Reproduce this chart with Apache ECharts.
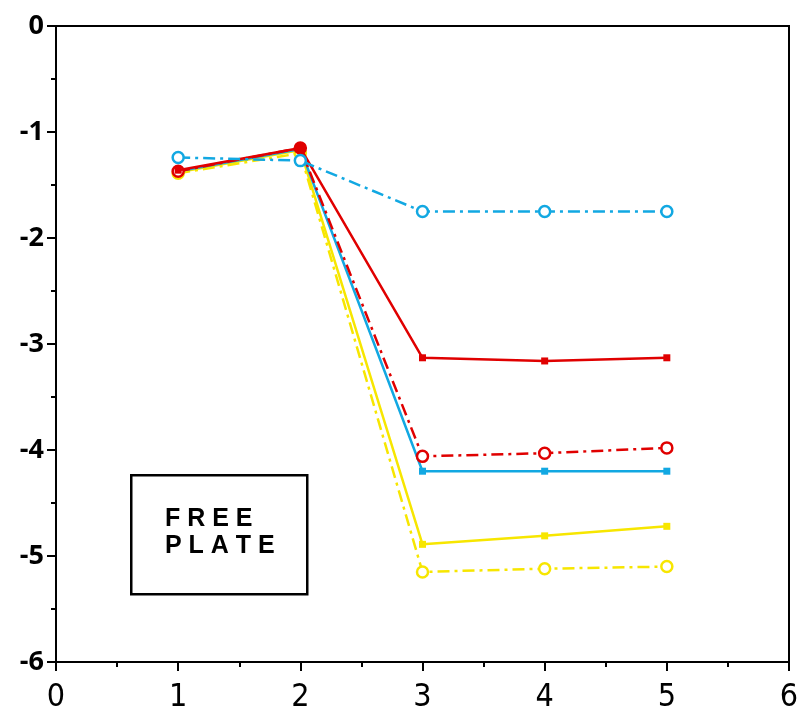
<!DOCTYPE html>
<html><head><meta charset="utf-8">
<script src="https://cdn.jsdelivr.net/npm/echarts@6/dist/echarts.min.js"></script>
<style>html,body{margin:0;padding:0;background:#fff}#c{width:810px;height:722px}</style>
</head><body><div id="c"></div>
<script>
var xValues = [1, 2, 3, 4, 5];
var blueDashCircle = [-1.24, -1.27, -1.75, -1.75, -1.75];
var redSolidSquare = [-1.36, -1.15, -3.13, -3.16, -3.13];
var redDashCircle = [-1.37, -1.15, -4.06, -4.03, -3.98];
var blueSolidSquare = [-1.37, -1.16, -4.20, -4.20, -4.20];
var yellowSolidSquare = [-1.38, -1.17, -4.89, -4.81, -4.72];
var yellowDashCircle = [-1.39, -1.2, -5.15, -5.12, -5.10];
var annotationText = ['F R E E', 'P L A T E'];

var RED = '#e00000', BLUE = '#12a8e2', YELLOW = '#f7e600';
var dashDot = [12, 5, 3, 5];
function pts(arr) { return arr.map(function (v, i) { return [xValues[i], v]; }); }
function mk(name, data, color, dashed, symbol, size, z) {
  return {
    name: name, type: 'line', data: pts(data), z: z,
    symbol: symbol, symbolSize: size,
    itemStyle: { color: dashed ? '#fff' : color, borderColor: color, borderWidth: dashed ? 2.5 : 0 },
    lineStyle: { color: color, width: 2.5, type: dashed ? dashDot : 'solid' },
    animation: false
  };
}
var redSolid = mk('redSolid', redSolidSquare, RED, false, 'rect', 7, 6);
redSolid.data[1] = { value: redSolid.data[1], symbol: 'circle', symbolSize: 12 };
var chart = echarts.init(document.getElementById('c'));
chart.setOption({
  backgroundColor: '#fff',
  grid: { left: 56, top: 26, width: 733, height: 636, show: true, borderColor: '#000', borderWidth: 2, backgroundColor: 'transparent' },
  xAxis: {
    type: 'value', min: 0, max: 6, interval: 1, position: 'bottom',
    axisLine: { onZero: false, lineStyle: { color: '#000', width: 2 } },
    axisTick: { inside: false, length: 9, lineStyle: { color: '#000', width: 2 } },
    minorTick: { show: true, splitNumber: 2, length: 5, lineStyle: { color: '#000', width: 2 } },
    splitLine: { show: false },
    axisLabel: { color: '#000', fontSize: 32, fontFamily: '"Liberation Sans Narrow", "DejaVu Sans Condensed", sans-serif', fontWeight: 'normal', margin: 20 }
  },
  yAxis: {
    type: 'value', min: -6, max: 0, interval: 1, position: 'left',
    axisLine: { onZero: false, lineStyle: { color: '#000', width: 2 } },
    axisTick: { inside: false, length: 9, lineStyle: { color: '#000', width: 2 } },
    minorTick: { show: true, splitNumber: 2, length: 5, lineStyle: { color: '#000', width: 2 } },
    splitLine: { show: false },
    axisLabel: { color: '#000', fontSize: 27, fontFamily: 'Open Sans', fontWeight: 'bold', margin: 12 }
  },
  series: [
    mk('yellowDash', yellowDashCircle, YELLOW, true, 'circle', 11, 2),
    mk('yellowSolid', yellowSolidSquare, YELLOW, false, 'rect', 7, 3),
    mk('blueSolid', blueSolidSquare, BLUE, false, 'rect', 7, 4),
    mk('redDash', redDashCircle, RED, true, 'circle', 11, 5),
    redSolid,
    mk('blueDash', blueDashCircle, BLUE, true, 'circle', 11, 7)
  ],
  graphic: [
    { type: 'rect', left: 130, top: 474, shape: { width: 176, height: 119 }, style: { fill: '#fff', stroke: '#000', lineWidth: 2.5 }, z: 100 },
    { type: 'text', left: 165, top: 507, style: { text: annotationText[0], fill: '#000', font: 'bold 25px "Liberation Sans"' }, z: 101 },
    { type: 'text', left: 165, top: 534, style: { text: annotationText[1], fill: '#000', font: 'bold 25px "Liberation Sans"' }, z: 101 }
  ]
});
</script></body></html>
